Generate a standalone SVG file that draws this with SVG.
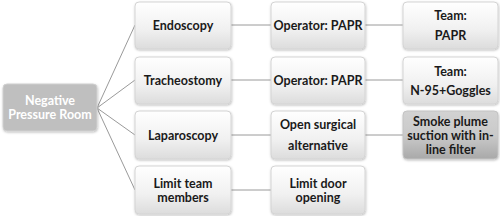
<svg xmlns="http://www.w3.org/2000/svg" width="500" height="216" viewBox="0 0 500 216">
<defs>
<linearGradient id="g" x1="0" y1="0" x2="0" y2="1">
<stop offset="0" stop-color="#ffffff"/>
<stop offset="0.6" stop-color="#f0f0f0"/>
<stop offset="1" stop-color="#dcdcdc"/>
</linearGradient>
<linearGradient id="gd" x1="0" y1="0" x2="0" y2="1">
<stop offset="0" stop-color="#d2d2d2"/>
<stop offset="0.5" stop-color="#cacaca"/>
<stop offset="1" stop-color="#a9a9a9"/>
</linearGradient>
<filter id="sh" x="-10%" y="-10%" width="120%" height="130%">
<feDropShadow dx="0.5" dy="1" stdDeviation="0.8" flood-color="#000" flood-opacity="0.25"/>
</filter>
</defs>
<style>
.b{fill:url(#g);stroke:#d4d4d4;stroke-width:1;filter:url(#sh)}
.d{fill:url(#gd);stroke:#c4c4c4;stroke-width:1;filter:url(#sh)}
.r{fill:#bfbfbf;stroke:#d0d0d0;stroke-width:1;filter:url(#sh)}
text{font-family:Lato,"Liberation Sans",sans-serif;font-weight:bold;font-size:12.5px;fill:#1a1a1a;text-anchor:middle;dominant-baseline:central}
.w{fill:#ffffff}
.c{stroke:#9a9a9a;stroke-width:1;fill:none}
</style>
<rect width="500" height="216" fill="#ffffff"/>
<g id="connectors">
<line class="c" x1="97" y1="108" x2="135" y2="25"/>
<line class="c" x1="97" y1="108" x2="135" y2="80"/>
<line class="c" x1="97" y1="108" x2="135" y2="135"/>
<line class="c" x1="97" y1="108" x2="135" y2="190"/>
<line class="c" x1="231" y1="25" x2="271" y2="25"/>
<line class="c" x1="231" y1="80" x2="271" y2="80"/>
<line class="c" x1="231" y1="135" x2="271" y2="135"/>
<line class="c" x1="231" y1="190" x2="271" y2="190"/>
<line class="c" x1="365" y1="25" x2="403" y2="25"/>
<line class="c" x1="365" y1="80" x2="403" y2="80"/>
<line class="c" x1="365" y1="135" x2="403" y2="135"/>
</g>
<g id="root">
<rect class="r" x="3" y="84" width="94" height="47" rx="4"/>
<text class="w" x="50" y="100.5">Negative</text>
<text class="w" x="50" y="114">Pressure Room</text>
</g>
<g id="endoscopy">
<rect class="b" x="135" y="2" width="96" height="47" rx="4"/>
<text x="183" y="25.5">Endoscopy</text>
</g>
<g id="tracheostomy">
<rect class="b" x="135" y="57" width="96" height="47" rx="4"/>
<text x="183" y="80.5">Tracheostomy</text>
</g>
<g id="laparoscopy">
<rect class="b" x="135" y="111" width="96" height="48" rx="4"/>
<text x="183" y="135">Laparoscopy</text>
</g>
<g id="limit-team">
<rect class="b" x="135" y="166" width="96" height="48" rx="4"/>
<text x="183" y="183">Limit team</text>
<text x="183" y="197">members</text>
</g>
<g id="operator-1">
<rect class="b" x="271" y="2" width="94" height="47" rx="4"/>
<text x="318" y="25.5">Operator: PAPR</text>
</g>
<g id="operator-2">
<rect class="b" x="271" y="57" width="94" height="47" rx="4"/>
<text x="318" y="80.5">Operator: PAPR</text>
</g>
<g id="open-surgical">
<rect class="b" x="271" y="111" width="94" height="48" rx="4"/>
<text x="318" y="124.5">Open surgical</text>
<text x="318" y="145">alternative</text>
</g>
<g id="limit-door">
<rect class="b" x="271" y="166" width="94" height="48" rx="4"/>
<text x="318" y="183">Limit door</text>
<text x="318" y="197">opening</text>
</g>
<g id="team-papr">
<rect class="b" x="403" y="2" width="95" height="47" rx="4"/>
<text x="450.5" y="15">Team:</text>
<text x="450.5" y="35">PAPR</text>
</g>
<g id="team-n95">
<rect class="b" x="403" y="57" width="95" height="47" rx="4"/>
<text x="450.5" y="71">Team:</text>
<text x="450.5" y="90">N-95+Goggles</text>
</g>
<g id="smoke">
<rect class="d" x="403" y="111" width="95" height="48" rx="4"/>
<text x="450.5" y="121">Smoke plume</text>
<text x="450.5" y="135">suction with in-</text>
<text x="450.5" y="149">line filter</text>
</g>
</svg>
